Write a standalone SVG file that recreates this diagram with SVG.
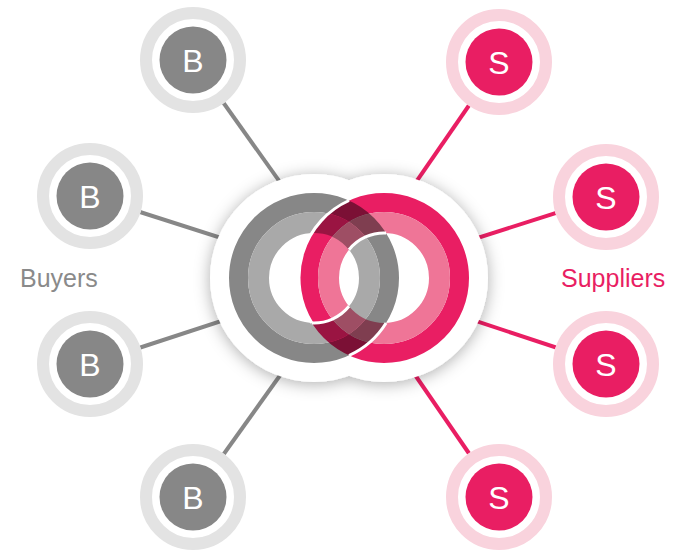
<svg xmlns="http://www.w3.org/2000/svg" width="680" height="550" viewBox="0 0 680 550">
  <style>
    .lb { stroke: #878787; stroke-width: 4; }
    .ls { stroke: #e91e63; stroke-width: 4; }
    .bg { fill: #ffffff; }
    .rb { fill: none; stroke: #e3e3e3; stroke-width: 12; }
    .rs { fill: none; stroke: #f9d3dd; stroke-width: 12; }
    .cb { fill: #878787; }
    .cs { fill: #e91e63; }
    .t { font-family: "Liberation Sans", Arial, sans-serif; font-size: 32px; fill: #ffffff; text-anchor: middle; }
    .lab { font-family: "Liberation Sans", Arial, sans-serif; font-size: 25px; }
    .w { fill: none; stroke: #ffffff; stroke-width: 3; }
  </style>
  <defs>
    <filter id="sh" x="-30%" y="-30%" width="160%" height="160%">
      <feDropShadow dx="0" dy="2" stdDeviation="8" flood-color="#000000" flood-opacity="0.32"/>
    </filter>
  </defs>
  <rect width="680" height="550" fill="#ffffff"/>

  <g id="connectors">
    <line class="lb" x1="193" y1="60" x2="349" y2="279"/>
    <line class="lb" x1="90" y1="196" x2="349" y2="279"/>
    <line class="lb" x1="90" y1="364" x2="349" y2="279"/>
    <line class="lb" x1="193" y1="497" x2="349" y2="279"/>
    <line class="ls" x1="499" y1="62" x2="349" y2="279"/>
    <line class="ls" x1="606" y1="197" x2="349" y2="279"/>
    <line class="ls" x1="606" y1="364" x2="349" y2="279"/>
    <line class="ls" x1="499" y1="497" x2="349" y2="279"/>
  </g>

  <g id="hub">
    <g filter="url(#sh)">
      <circle cx="314" cy="278" r="104" fill="#ffffff"/>
      <circle cx="384" cy="278" r="104" fill="#ffffff"/>
    </g>
    <g style="isolation:isolate">
      <circle cx="314" cy="278" r="75.5" fill="none" stroke="#878787" stroke-width="19"/>
      <circle cx="314" cy="278" r="55.5" fill="none" stroke="#a9a9a9" stroke-width="21"/>
      <g style="mix-blend-mode:multiply">
        <circle cx="384" cy="278" r="75.5" fill="none" stroke="#e91e63" stroke-width="19"/>
        <circle cx="384" cy="278" r="55.5" fill="none" stroke="#ef7597" stroke-width="21"/>
      </g>
    </g>
    <path class="w" d="M311.9,323 A85,85 0 0 1 349,200.5"/>
    <path class="w" d="M349,249.7 A45,45 0 0 1 386.1,233"/>
    <path class="w" d="M349,355.5 A85,85 0 0 0 386.1,323"/>
    <path class="w" d="M311.9,323 A45,45 0 0 0 349,306.3"/>
  </g>

  <g id="buyer-1">
    <circle class="bg" cx="193" cy="60" r="53"/>
    <circle class="rb" cx="193" cy="60" r="47"/>
    <circle class="cb" cx="193" cy="60" r="33.5"/>
    <text class="t" x="193" y="71.5">B</text>
  </g>
  <g id="buyer-2">
    <circle class="bg" cx="90" cy="196" r="53"/>
    <circle class="rb" cx="90" cy="196" r="47"/>
    <circle class="cb" cx="90" cy="196" r="33.5"/>
    <text class="t" x="90" y="207.5">B</text>
  </g>
  <g id="buyer-3">
    <circle class="bg" cx="90" cy="364" r="53"/>
    <circle class="rb" cx="90" cy="364" r="47"/>
    <circle class="cb" cx="90" cy="364" r="33.5"/>
    <text class="t" x="90" y="375.5">B</text>
  </g>
  <g id="buyer-4">
    <circle class="bg" cx="193" cy="497" r="53"/>
    <circle class="rb" cx="193" cy="497" r="47"/>
    <circle class="cb" cx="193" cy="497" r="33.5"/>
    <text class="t" x="193" y="508.5">B</text>
  </g>

  <g id="supplier-1">
    <circle class="bg" cx="499" cy="62" r="53"/>
    <circle class="rs" cx="499" cy="62" r="47"/>
    <circle class="cs" cx="499" cy="62" r="33.5"/>
    <text class="t" x="499" y="73.5">S</text>
  </g>
  <g id="supplier-2">
    <circle class="bg" cx="606" cy="197" r="53"/>
    <circle class="rs" cx="606" cy="197" r="47"/>
    <circle class="cs" cx="606" cy="197" r="33.5"/>
    <text class="t" x="606" y="208.5">S</text>
  </g>
  <g id="supplier-3">
    <circle class="bg" cx="606" cy="364" r="53"/>
    <circle class="rs" cx="606" cy="364" r="47"/>
    <circle class="cs" cx="606" cy="364" r="33.5"/>
    <text class="t" x="606" y="375.5">S</text>
  </g>
  <g id="supplier-4">
    <circle class="bg" cx="499" cy="497" r="53"/>
    <circle class="rs" cx="499" cy="497" r="47"/>
    <circle class="cs" cx="499" cy="497" r="33.5"/>
    <text class="t" x="499" y="508.5">S</text>
  </g>

  <g id="labels">
    <text class="lab" x="20" y="287" fill="#8a8a8a">Buyers</text>
    <text class="lab" x="561" y="287" fill="#e91e63">Suppliers</text>
  </g>
</svg>
